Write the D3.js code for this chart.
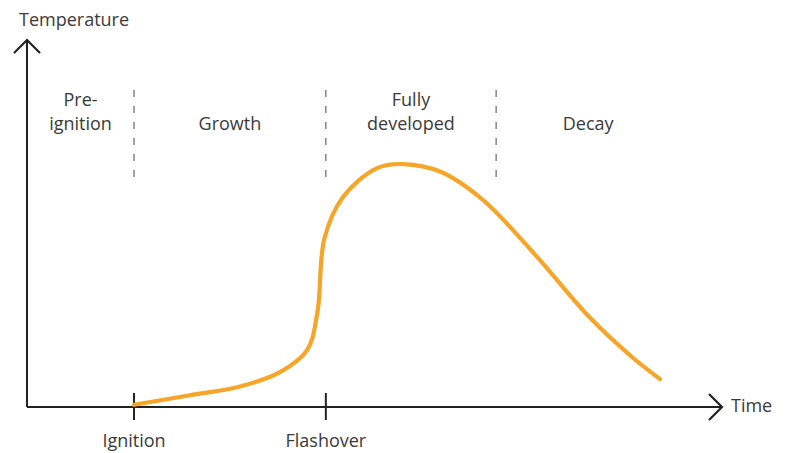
<!DOCTYPE html>
<html>
<head>
<meta charset="utf-8">
<script src="https://cdn.jsdelivr.net/npm/d3@7"></script>
<style>
  html, body { margin: 0; padding: 0; background: #fff; }
  svg text { font-family: "Open Sans", "Noto Sans", sans-serif; fill: #3a3a3a; font-weight: 400; }
</style>
</head>
<body>
<svg id="chart" width="785" height="453"></svg>
<script>
// Fire development curve: time (arbitrary units 0-100) vs temperature (0-100)
const curveTime = [15.4, 23.45, 30.65, 36.4, 40.3, 41.8, 42.8, 45.47, 50.36, 54.1, 59.5, 65.61, 73.38, 81.01, 87.0, 91.08];
const curveTemp = [0.6, 3.2, 5.6, 9.5, 15.5, 26.0, 46.0, 57.2, 65.1, 66.2, 64.1, 56.4, 40.9, 24.3, 13.7, 7.6];

// Phase boundaries and labels
const phaseBounds = [0, 15.4, 43.0, 67.5, 94];
const phaseLabels = [["Pre-", "ignition"], ["Growth"], ["Fully", "developed"], ["Decay"]];
const dividerTimes = [15.4, 43.0, 67.5];

// Events marked on the time axis
const eventTimes = [15.4, 43.0];
const eventLabels = ["Ignition", "Flashover"];

const axisLabels = { x: "Time", y: "Temperature" };

const svg = d3.select("#chart");
const x = d3.scaleLinear().domain([0, 100]).range([27, 722]);
const y = d3.scaleLinear().domain([0, 100]).range([407, 40]);

const ink = "#222";
const fontSize = 18;

// Axes with open arrowheads
svg.append("path")
  .attr("d", `M${x(0)},${y(0)} L${x(0)},${y(100)} M${x(0)},${y(0)} L${x(100)},${y(0)}`)
  .attr("fill", "none").attr("stroke", ink).attr("stroke-width", 2);
svg.append("path")
  .attr("d", `M${x(0) - 13},${y(100) + 13} L${x(0)},${y(100)} L${x(0) + 13},${y(100) + 13}`)
  .attr("fill", "none").attr("stroke", ink).attr("stroke-width", 2.2);
svg.append("path")
  .attr("d", `M${x(100) - 13},${y(0) - 13} L${x(100)},${y(0)} L${x(100) - 13},${y(0) + 13}`)
  .attr("fill", "none").attr("stroke", ink).attr("stroke-width", 2.2);

svg.append("text").attr("x", 19).attr("y", 26).attr("font-size", fontSize).text(axisLabels.y);
svg.append("text").attr("x", x(100) + 9).attr("y", y(0) + 5).attr("font-size", fontSize).text(axisLabels.x);

// Event ticks and labels
eventTimes.forEach((t, i) => {
  svg.append("line")
    .attr("x1", x(t)).attr("x2", x(t))
    .attr("y1", y(0) - 14).attr("y2", y(0) + 13)
    .attr("stroke", ink).attr("stroke-width", 2);
  svg.append("text")
    .attr("x", x(t)).attr("y", y(0) + 40)
    .attr("text-anchor", "middle").attr("font-size", fontSize)
    .text(eventLabels[i]);
});

// Dashed phase dividers
dividerTimes.forEach(t => {
  svg.append("line")
    .attr("x1", x(t)).attr("x2", x(t))
    .attr("y1", 90).attr("y2", 178)
    .attr("stroke", "#666").attr("stroke-width", 1.2)
    .attr("stroke-dasharray", "7,9");
});

// Phase labels
phaseLabels.forEach((lines, i) => {
  const cx = x((phaseBounds[i] + phaseBounds[i + 1]) / 2);
  const startY = lines.length === 2 ? 106 : 130;
  lines.forEach((ln, j) => {
    svg.append("text")
      .attr("x", cx).attr("y", startY + j * 24)
      .attr("text-anchor", "middle").attr("font-size", fontSize)
      .text(ln);
  });
});

// Temperature curve
const pts = curveTime.map((t, i) => [t, curveTemp[i]]);
svg.append("path")
  .datum(pts)
  .attr("d", d3.line().x(d => x(d[0])).y(d => y(d[1])).curve(d3.curveCatmullRom.alpha(0.5)))
  .attr("fill", "none")
  .attr("stroke", "#F7A529")
  .attr("stroke-width", 4.2)
  .attr("stroke-linecap", "round");
</script>
</body>
</html>
